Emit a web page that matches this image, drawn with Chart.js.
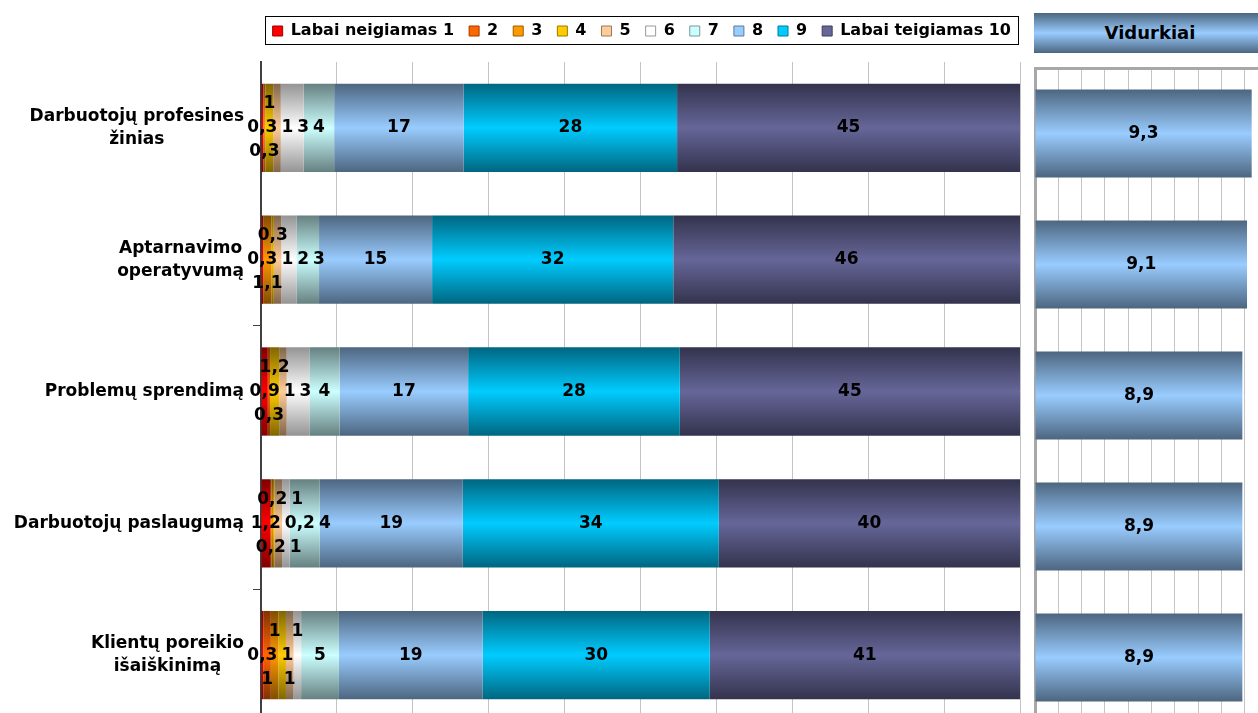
<!DOCTYPE html>
<html lang="lt">
<head>
<meta charset="utf-8">
<script src="https://cdn.jsdelivr.net/npm/chart.js@4.4.0/dist/chart.umd.min.js"></script>
<style>
  html, body { margin: 0; padding: 0; background: #fff; }
  body { width: 1258px; height: 713px; overflow: hidden; position: relative; }
  #left { position: absolute; left: 0; top: 0; }
  #right { position: absolute; left: 1025px; top: 0; }
  #head {
    position: absolute; left: 1034px; top: 13px; width: 232px; height: 40px;
    font: bold 18px 'DejaVu Sans', sans-serif;
    line-height: 40px; text-align: center; color: #000;
    background: linear-gradient(to bottom, #4c6680 0%, #99ccff 50%, #4c6680 100%);
  }
</style>
</head>
<body>
<canvas id="left" width="1025" height="726"></canvas>
<canvas id="right" width="250" height="726"></canvas>
<div id="head">Vidurkiai</div>
<script>
// categories (top to bottom)
const categories = [
  ['Darbuotojų profesines', 'žinias'],
  ['Aptarnavimo', 'operatyvumą'],
  ['Problemų sprendimą'],
  ['Darbuotojų paslaugumą'],
  ['Klientų poreikio', 'išaiškinimą']
];
const seriesNames = ['Labai neigiamas 1', '2', '3', '4', '5', '6', '7', '8', '9', 'Labai teigiamas 10'];

// percentages per score, one value per category
const s1  = [0.3, 0.3, 0.9, 1.2, 0.3];
const s2  = [0,   0,   0.3, 0.2, 1];
const s3  = [0.3, 1.1, 0,   0.2, 1];
const s4  = [1,   0.3, 1.2, 0.2, 1];
const s5  = [1,   1,   1,   1,   1];
const s6  = [3,   2,   3,   1,   1];
const s7  = [4,   3,   4,   4,   5];
const s8  = [17,  15,  17,  19,  19];
const s9  = [28,  32,  28,  34,  30];
const s10 = [45,  46,  45,  40,  41];
const series = [s1, s2, s3, s4, s5, s6, s7, s8, s9, s10];

// averages
const means = [9.3, 9.1, 8.9, 8.9, 8.9];

const colors = ['#ff0000', '#ff6600', '#ff9900', '#ffcc00', '#ffcc99',
                '#ffffff', '#ccffff', '#99ccff', '#00ccff', '#666699'];
const FONT = "'DejaVu Sans', sans-serif";
const BAR_PCT = 0.67;

function shade(hex, f) {
  const n = parseInt(hex.slice(1), 16);
  const r = (n >> 16) & 255, g = (n >> 8) & 255, b = n & 255;
  return 'rgb(' + Math.round(r * f) + ',' + Math.round(g * f) + ',' + Math.round(b * f) + ')';
}

// vertical gradient across each bar: dark edges, bright middle
function barFill(color) {
  return function (c) {
    const chart = c.chart;
    const y = chart.scales.y;
    if (!y || c.dataIndex === undefined) return color;
    const half = (y.bottom - y.top) / chart.data.labels.length * BAR_PCT / 2;
    const cy = y.getPixelForValue(c.dataIndex);
    if (!isFinite(half) || !isFinite(cy)) return color;
    const g = chart.ctx.createLinearGradient(0, cy - half, 0, cy + half);
    const dark = shade(color, color === '#ffffff' ? 0.58 : 0.5);
    g.addColorStop(0, dark);
    g.addColorStop(0.5, color);
    g.addColorStop(1, dark);
    return g;
  };
}

const fmt = v => String(v).replace('.', ',');

// 100% stacked: share of each row total
const totals = categories.map((_, j) => series.reduce((s, a) => s + a[j], 0));

// value labels; narrow segments are spread over three lines so they stay readable
const barLabels = {
  id: 'barLabels',
  afterDatasetsDraw(chart) {
    const ctx = chart.ctx;
    ctx.save();
    ctx.font = 'bold 17px ' + FONT;
    ctx.fillStyle = '#000';
    ctx.textAlign = 'center';
    ctx.textBaseline = 'middle';
    const rows = chart.data.labels.map(() => ({ n: 0, ends: { '-1': -1e9, '0': -1e9, '1': -1e9 } }));
    chart.data.datasets.forEach((ds, i) => {
      chart.getDatasetMeta(i).data.forEach((bar, j) => {
        const v = ds.raw[j];
        if (!v) return;
        const row = rows[j];
        let slot = 0;
        if (v < 1.5) {
          slot = [0, 1, -1][row.n % 3];
          row.n++;
        }
        const txt = fmt(v);
        const w = ctx.measureText(txt).width;
        const x = Math.max((bar.x + bar.base) / 2, row.ends[slot] + 4 + w / 2);
        row.ends[slot] = x + w / 2;
        ctx.fillText(txt, x, bar.y + slot * 24);
      });
    });
    ctx.restore();
  }
};

const categoryLabels = {
  id: 'categoryLabels',
  afterDraw(chart) {
    const ctx = chart.ctx, y = chart.scales.y;
    ctx.save();
    ctx.font = 'bold 17px ' + FONT;
    ctx.fillStyle = '#000';
    ctx.textAlign = 'center';
    ctx.textBaseline = 'middle';
    const right = chart.chartArea.left - 17;
    categories.forEach((lines, i) => {
      const w = Math.max(...lines.map(l => ctx.measureText(l).width));
      const cy = y.getPixelForTick(i);
      lines.forEach((l, k) => ctx.fillText(l, right - w / 2, cy + (k - (lines.length - 1) / 2) * 23));
    });
    ctx.restore();
  }
};

// frame round the legend, plus room below it
const legendFrame = {
  id: 'legendFrame',
  afterInit(chart) {
    const fit = chart.legend.fit;
    chart.legend.fit = function () {
      fit.call(this);
      this.height += 13;
    };
  },
  afterLayout(chart) {
    chart.legend.left += 6;
    chart.legend.right += 6;
  },
  afterDraw(chart) {
    const boxes = chart.legend.legendHitBoxes;
    if (!boxes || !boxes.length) return;
    const l = Math.min(...boxes.map(b => b.left)) - 8;
    const r = Math.max(...boxes.map(b => b.left + b.width)) + 7;
    const t = Math.min(...boxes.map(b => b.top)) - 7;
    const btm = Math.max(...boxes.map(b => b.top + b.height)) + 5;
    const ctx = chart.ctx;
    ctx.save();
    ctx.strokeStyle = '#000';
    ctx.lineWidth = 1;
    ctx.strokeRect(Math.round(l) + 0.5, Math.round(t) + 0.5, Math.round(r - l), Math.round(btm - t));
    ctx.restore();
  }
};

new Chart(document.getElementById('left'), {
  type: 'bar',
  data: {
    labels: categories,
    datasets: series.map((arr, i) => ({
      label: seriesNames[i],
      raw: arr,
      data: arr.map((v, j) => v / totals[j] * 100),
      backgroundColor: barFill(colors[i]),
      borderWidth: 0,
      barPercentage: BAR_PCT,
      categoryPercentage: 1
    }))
  },
  options: {
    indexAxis: 'y',
    responsive: false,
    animation: false,
    layout: { padding: { left: 240, right: 5, top: 8, bottom: 5 } },
    plugins: {
      tooltip: { enabled: false },
      legend: {
        position: 'top',
        align: 'end',
        labels: {
          boxWidth: 10,
          boxHeight: 10,
          padding: 15,
          color: '#000',
          font: { family: FONT, size: 16, weight: 'bold' },
          generateLabels: chart => chart.data.datasets.map((d, i) => ({
            text: d.label,
            fillStyle: colors[i],
            strokeStyle: shade(colors[i], 0.6),
            lineWidth: 1,
            datasetIndex: i
          }))
        }
      }
    },
    scales: {
      x: {
        stacked: true,
        min: 0,
        max: 100,
        ticks: { display: false, stepSize: 10 },
        grid: { color: '#c4c4c4', drawTicks: false },
        border: { display: false }
      },
      y: {
        stacked: true,
        ticks: { display: false },
        afterFit: s => { s.width = 21; },
        grid: {
          drawOnChartArea: false,
          drawTicks: true,
          tickLength: 8,
          tickColor: c => (c.index === 2 || c.index === 4) ? '#404040' : 'rgba(0,0,0,0)'
        },
        border: { color: '#404040', width: 2 }
      }
    }
  },
  plugins: [barLabels, categoryLabels, legendFrame]
});

new Chart(document.getElementById('right'), {
  type: 'bar',
  data: {
    labels: categories,
    datasets: [{
      label: 'Vidurkiai',
      raw: means,
      data: means,
      backgroundColor: barFill('#99ccff'),
      borderWidth: 0,
      barPercentage: BAR_PCT,
      categoryPercentage: 1
    }]
  },
  options: {
    indexAxis: 'y',
    responsive: false,
    animation: false,
    layout: { padding: { left: 10, right: 7, top: 68, bottom: 3 } },
    plugins: { legend: { display: false }, tooltip: { enabled: false } },
    scales: {
      x: {
        position: 'top',
        min: 0,
        max: 10,
        ticks: { display: false, stepSize: 1 },
        grid: { color: '#c4c4c4', drawTicks: false },
        border: { display: true, color: '#a8a8a8', width: 3 }
      },
      y: {
        ticks: { display: false },
        grid: { display: false, drawTicks: false },
        border: { display: true, color: '#a8a8a8', width: 3 }
      }
    }
  },
  plugins: [barLabels]
});
</script>
</body>
</html>
